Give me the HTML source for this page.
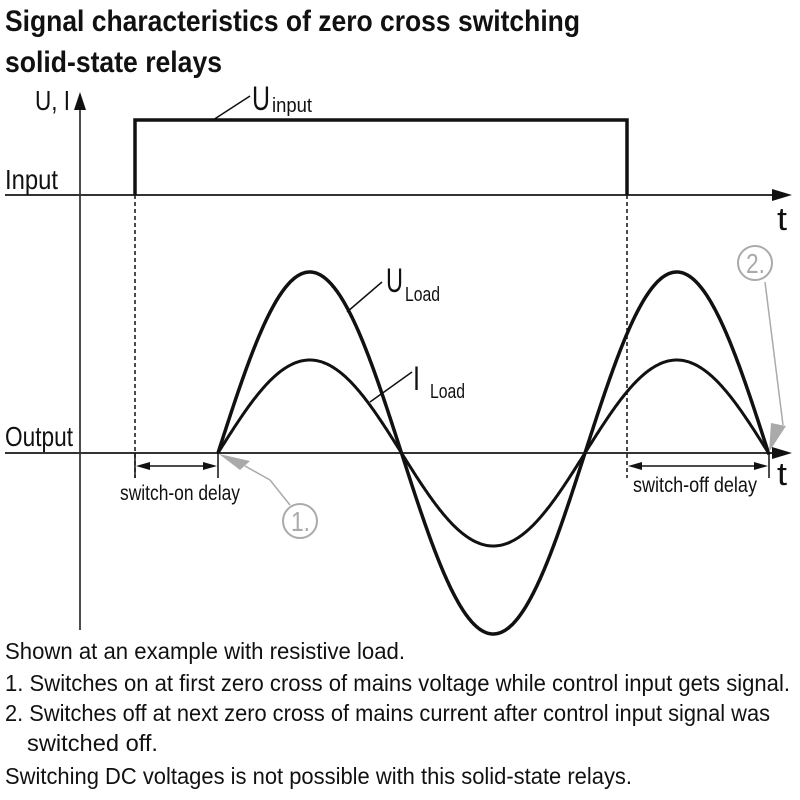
<!DOCTYPE html>
<html><head><meta charset="utf-8"><style>
body{margin:0;background:#fff;}
svg{display:block}
text{font-family:"Liberation Sans Narrow","Liberation Sans",sans-serif;fill:#111}
</style></head><body>
<svg id="s" width="800" height="800" viewBox="0 0 800 800">
<text x="5" y="31" font-size="30" font-weight="bold" textLength="575" lengthAdjust="spacingAndGlyphs">Signal characteristics of zero cross switching</text>
<text x="5" y="72" font-size="30" font-weight="bold" textLength="217" lengthAdjust="spacingAndGlyphs">solid-state relays</text>
<line x1="80" y1="100" x2="80" y2="630" stroke="#111" stroke-width="1.5"/>
<polygon points="80,92 74,110 86,110" fill="#111"/>
<text x="35" y="110" font-size="28" textLength="35" lengthAdjust="spacingAndGlyphs">U, I</text>
<line x1="5" y1="195" x2="775" y2="195" stroke="#333" stroke-width="2"/>
<polygon points="792,195 772,189 772,201" fill="#111"/>
<text x="5" y="189" font-size="28" textLength="53" lengthAdjust="spacingAndGlyphs">Input</text>
<text x="777" y="230" font-size="32" textLength="10" lengthAdjust="spacingAndGlyphs">t</text>
<polyline points="135,195 135,120 627,120 627,195" fill="none" stroke="#111" stroke-width="3.5"/>
<line x1="213" y1="120" x2="250" y2="96" stroke="#111" stroke-width="1.5"/>
<text x="252" y="110" font-size="34" textLength="18" lengthAdjust="spacingAndGlyphs">U</text><text x="272" y="112" font-size="20" textLength="40" lengthAdjust="spacingAndGlyphs">input</text>
<line x1="135" y1="195" x2="135" y2="478" stroke="#111" stroke-width="1.5" stroke-dasharray="4,3"/>
<line x1="627" y1="195" x2="627" y2="478" stroke="#111" stroke-width="1.5" stroke-dasharray="4,3"/>
<line x1="5" y1="453" x2="775" y2="453" stroke="#333" stroke-width="2"/>
<polygon points="792,453 772,447 772,459" fill="#111"/>
<text x="5" y="446" font-size="28" textLength="68" lengthAdjust="spacingAndGlyphs">Output</text>
<text x="777" y="485" font-size="32" textLength="10" lengthAdjust="spacingAndGlyphs">t</text>
<path id="u" fill="none" stroke="#111" stroke-width="3.5"/>
<path id="i" fill="none" stroke="#111" stroke-width="3"/>
<line x1="347" y1="312" x2="382" y2="282" stroke="#111" stroke-width="1.5"/>
<text x="386" y="292" font-size="34" textLength="17" lengthAdjust="spacingAndGlyphs">U</text><text x="405" y="301" font-size="20" textLength="35" lengthAdjust="spacingAndGlyphs">Load</text>
<line x1="370" y1="402" x2="412" y2="372" stroke="#111" stroke-width="1.5"/>
<text x="413" y="390" font-size="34" textLength="7" lengthAdjust="spacingAndGlyphs">I</text><text x="430" y="398" font-size="20" textLength="35" lengthAdjust="spacingAndGlyphs">Load</text>
<line x1="135" y1="453" x2="135" y2="478" stroke="#111" stroke-width="1.5"/>
<line x1="218" y1="453" x2="218" y2="478" stroke="#111" stroke-width="1.5"/>
<line x1="140" y1="466" x2="213" y2="466" stroke="#111" stroke-width="1.5"/>
<polygon points="136,466 150,462 150,470" fill="#111"/><polygon points="217,466 203,462 203,470" fill="#111"/>
<text x="120" y="500" font-size="21" textLength="120" lengthAdjust="spacingAndGlyphs">switch-on delay</text>
<line x1="769" y1="453" x2="769" y2="478" stroke="#111" stroke-width="1.5"/>
<line x1="632" y1="466" x2="764" y2="466" stroke="#111" stroke-width="1.5"/>
<polygon points="628,466 642,462 642,470" fill="#111"/><polygon points="768,466 754,462 754,470" fill="#111"/>
<text x="633" y="492" font-size="21" textLength="124" lengthAdjust="spacingAndGlyphs">switch-off delay</text>
<line x1="270" y1="480" x2="290" y2="505" stroke="#aaa" stroke-width="1.5"/>
<line x1="245" y1="466" x2="270" y2="480" stroke="#aaa" stroke-width="1.5"/>
<polygon points="219,454 250,461 240,470" fill="#aaa"/>
<circle cx="300" cy="521" r="17" fill="none" stroke="#aaa" stroke-width="2"/>
<text x="291" y="531" font-size="28" style="fill:#aaa" textLength="19" lengthAdjust="spacingAndGlyphs">1.</text>
<line x1="765" y1="282" x2="783" y2="425" stroke="#aaa" stroke-width="1.5"/>
<polygon points="769,452 771,423 786,426" fill="#aaa"/>
<circle cx="755" cy="263" r="17" fill="none" stroke="#aaa" stroke-width="2"/>
<text x="746" y="273" font-size="28" style="fill:#aaa" textLength="19" lengthAdjust="spacingAndGlyphs">2.</text>
<g font-size="23">
<text x="5" y="659" textLength="400" lengthAdjust="spacingAndGlyphs">Shown at an example with resistive load.</text>
<text x="5" y="691" textLength="785" lengthAdjust="spacingAndGlyphs">1. Switches on at first zero cross of mains voltage while control input gets signal.</text>
<text x="5" y="721" textLength="765" lengthAdjust="spacingAndGlyphs">2. Switches off at next zero cross of mains current after control input signal was</text>
<text x="27" y="751" textLength="131" lengthAdjust="spacingAndGlyphs">switched off.</text>
<text x="5" y="784" textLength="627" lengthAdjust="spacingAndGlyphs">Switching DC voltages is not possible with this solid-state relays.</text>
</g>
</svg>
<script>
function mk(a){var d="",x0=218,x1=769,T=367;for(var x=x0;x<=x1+0.01;x+=1){var y=453-a*Math.sin((x-x0)/T*2*Math.PI);d+=(x==x0?"M":"L")+x.toFixed(1)+","+y.toFixed(1);}return d;}
document.getElementById("u").setAttribute("d",mk(181));
document.getElementById("i").setAttribute("d",mk(93));
</script>
</body></html>
